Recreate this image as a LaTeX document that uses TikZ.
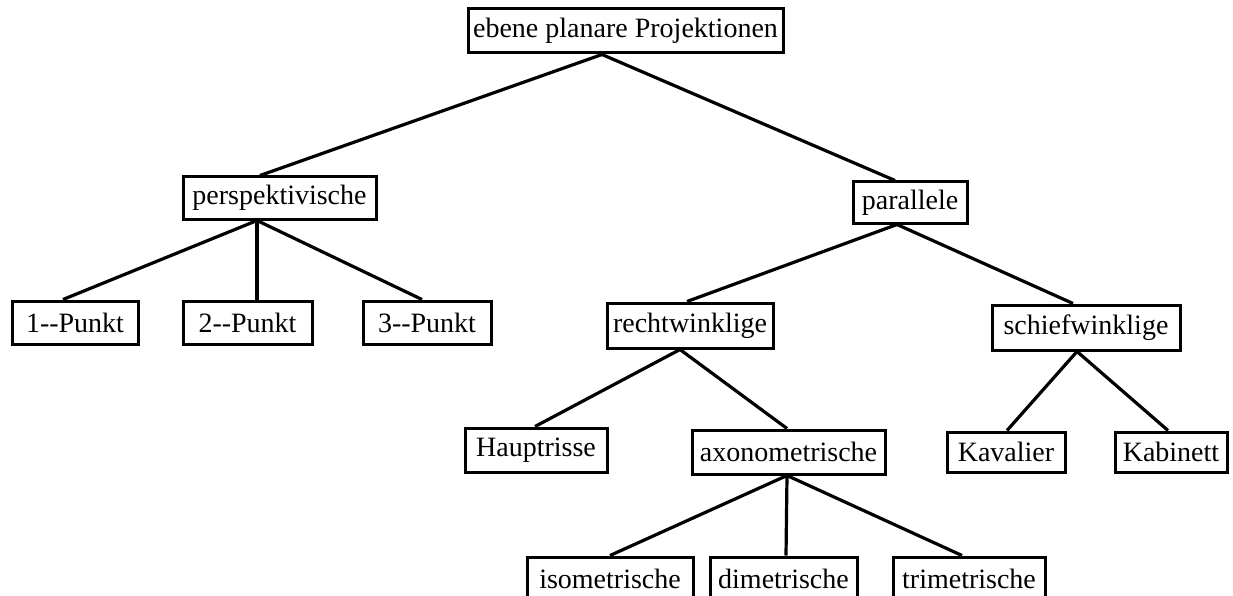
\documentclass[tikz,border=0pt]{standalone}
\usepackage{fontspec}
\setmainfont{Liberation Serif}
\tikzset{
  box/.style={draw, line width=3pt, rectangle, inner sep=0pt, fill=white,
    font=\fontsize{28}{30}\selectfont},
  conn/.style={line width=3.2pt}
}
\begin{document}
\begin{tikzpicture}[x=1pt,y=-1pt]
\clip (0,0) rectangle (1233,596);
% nodes
\node[box, minimum width=315pt, minimum height=44pt] (root) at (625.5,31) {ebene planare Projektionen};
\node[box, minimum width=193pt, minimum height=42pt] (persp) at (279.5,198) {perspektivische};
\node[box, minimum width=114pt, minimum height=41pt] (par) at (910,202.5) {parallele};
\node[box, minimum width=126pt, minimum height=43pt] (p1) at (75,322.5) {1-{}-Punkt};
\node[box, minimum width=129pt, minimum height=43pt] (p2) at (247.5,322.5) {2-{}-Punkt};
\node[box, minimum width=128pt, minimum height=43pt] (p3) at (427,322.5) {3-{}-Punkt};
\node[box, minimum width=166pt, minimum height=45pt] (recht) at (690,325.5) {rechtwinklige};
\node[box, minimum width=188pt, minimum height=45pt] (schief) at (1086,327.5) {schiefwinklige};
\node[box, minimum width=142pt, minimum height=44pt] (haupt) at (536,450) {Hauptrisse};
\node[box, minimum width=193pt, minimum height=44pt] (axon) at (788.5,452) {axonometrische};
\node[box, minimum width=118pt, minimum height=40pt] (kaval) at (1006,452) {Kavalier};
\node[box, minimum width=112pt, minimum height=40pt] (kabin) at (1171,452) {Kabinett};
\node[box, minimum width=166pt, minimum height=43pt] (iso) at (610,578.5) {isometrische};
\node[box, minimum width=147pt, minimum height=43pt] (dim) at (783.5,578.5) {dimetrische};
\node[box, minimum width=152pt, minimum height=43pt] (tri) at (969,578.5) {trimetrische};
% connectors
\draw[conn] ([xshift=-23.5pt]root.south) -- ([xshift=-19.5pt]persp.north);
\draw[conn] ([xshift=-23.5pt]root.south) -- ([xshift=-15pt]par.north);
\draw[conn] ([xshift=-22.5pt]persp.south) -- ([xshift=-12pt]p1.north);
\draw[conn] ([xshift=-22.5pt]persp.south) -- ([xshift=9.5pt]p2.north);
\draw[conn] ([xshift=-22.5pt]persp.south) -- ([xshift=-5pt]p3.north);
\draw[conn] ([xshift=-13pt]par.south) -- ([xshift=-3pt]recht.north);
\draw[conn] ([xshift=-13pt]par.south) -- ([xshift=-13pt]schief.north);
\draw[conn] ([xshift=-10pt]recht.south) -- ([xshift=-1pt]haupt.north);
\draw[conn] ([xshift=-10pt]recht.south) -- ([xshift=-1.5pt]axon.north);
\draw[conn] ([xshift=-9pt]schief.south) -- ([xshift=1pt]kaval.north);
\draw[conn] ([xshift=-9pt]schief.south) -- ([xshift=-3pt]kabin.north);
\draw[conn] ([xshift=-1.5pt]axon.south) -- (iso.north);
\draw[conn] ([xshift=-1.5pt]axon.south) -- ([xshift=2.5pt]dim.north);
\draw[conn] ([xshift=-1.5pt]axon.south) -- ([xshift=-7pt]tri.north);
\end{tikzpicture}
\end{document}
